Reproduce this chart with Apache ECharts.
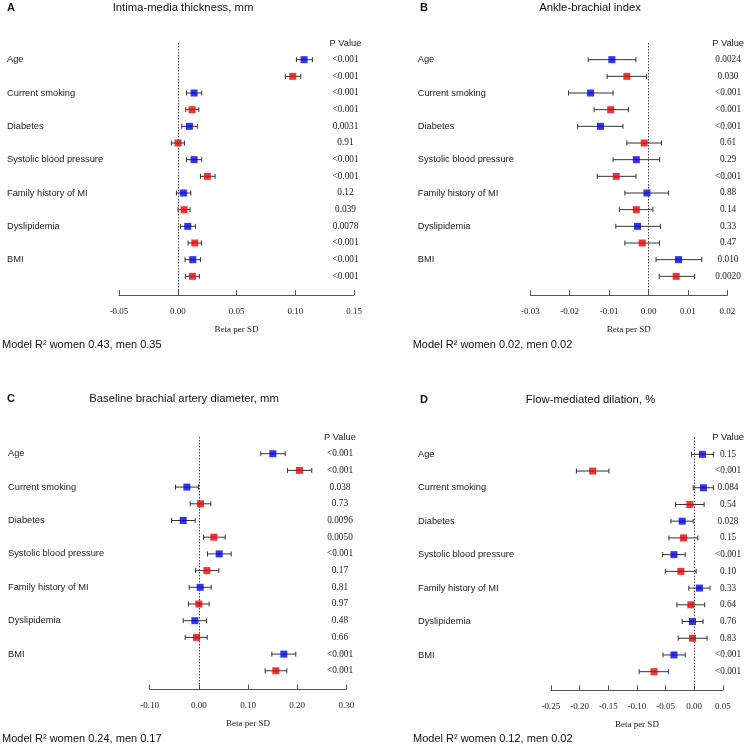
<!DOCTYPE html>
<html>
<head>
<meta charset="utf-8">
<script src="https://cdn.jsdelivr.net/npm/echarts@6/dist/echarts.min.js"></script>
<style>html,body{margin:0;padding:0;background:#fff}#c{width:747px;height:748px}</style>
</head>
<body>
<div id="c"></div>
<script>
// ---- data ----
var categories = ['Age', 'Current smoking', 'Diabetes', 'Systolic blood pressure', 'Family history of MI', 'Dyslipidemia', 'BMI'];

// Panel A: Intima-media thickness, mm
var aBlue   = [0.1075, 0.0139, 0.0099, 0.0139, 0.0048, 0.0085, 0.0128];
var aBlueLo = [0.1010, 0.0074, 0.0034, 0.0074, -0.0011, 0.0023, 0.0062];
var aBlueHi = [0.1146, 0.0204, 0.0167, 0.0204, 0.0111, 0.0150, 0.0193];
var aRed    = [0.0979, 0.0122, 0.0003, 0.0252, 0.0054, 0.0145, 0.0125];
var aRedLo  = [0.0916, 0.0068, -0.0054, 0.0193, 0.0003, 0.0088, 0.0065];
var aRedHi  = [0.1047, 0.0179, 0.0057, 0.0318, 0.0105, 0.0201, 0.0184];
var aPBlue  = ['<0.001', '<0.001', '0.0031', '<0.001', '0.12', '0.0078', '<0.001'];
var aPRed   = ['<0.001', '<0.001', '0.91', '<0.001', '0.039', '<0.001', '<0.001'];

// Panel B: Ankle-brachial index
var bBlue   = [-0.0093, -0.0147, -0.0122, -0.0031, -0.0004, -0.0028, 0.0076];
var bBlueLo = [-0.0153, -0.0203, -0.0180, -0.0090, -0.0060, -0.0083, 0.0019];
var bBlueHi = [-0.0032, -0.0090, -0.0065, 0.0028, 0.0051, 0.0030, 0.0135];
var bRed    = [-0.0055, -0.0096, -0.0011, -0.0082, -0.0031, -0.0016, 0.0070];
var bRedLo  = [-0.0105, -0.0138, -0.0055, -0.0130, -0.0074, -0.0060, 0.0027];
var bRedHi  = [-0.0005, -0.0051, 0.0033, -0.0032, 0.0011, 0.0028, 0.0117];
var bPBlue  = ['0.0024', '<0.001', '<0.001', '0.29', '0.88', '0.33', '0.010'];
var bPRed   = ['0.030', '<0.001', '0.61', '<0.001', '0.14', '0.47', '0.0020'];

// Panel C: Baseline brachial artery diameter, mm
var cBlue   = [0.1505, -0.0244, -0.0319, 0.0414, 0.0027, -0.0081, 0.1729];
var cBlueLo = [0.1260, -0.0475, -0.0556, 0.0176, -0.0197, -0.0319, 0.1485];
var cBlueHi = [0.1756, -0.0007, -0.0075, 0.0658, 0.0251, 0.0156, 0.1973];
var cRed    = [0.2047, 0.0034, 0.0305, 0.0163, 0.0000, -0.0047, 0.1566];
var cRedLo  = [0.1803, -0.0176, 0.0095, -0.0068, -0.0210, -0.0278, 0.1349];
var cRedHi  = [0.2298, 0.0244, 0.0536, 0.0407, 0.0210, 0.0169, 0.1790];
var cPBlue  = ['<0.001', '0.038', '0.0096', '<0.001', '0.81', '0.48', '<0.001'];
var cPRed   = ['<0.001', '0.73', '0.0050', '0.17', '0.97', '0.66', '<0.001'];

// Panel D: Flow-mediated dilation, %
var dBlue   = [0.0145, 0.0162, -0.0208, -0.0353, 0.0093, -0.0029, -0.0353];
var dBlueLo = [-0.0046, -0.0017, -0.0405, -0.0550, -0.0093, -0.0208, -0.0544];
var dBlueHi = [0.0336, 0.0336, -0.0017, -0.0156, 0.0278, 0.0156, -0.0156];
var dRed    = [-0.1772, -0.0075, -0.0185, -0.0232, -0.0058, -0.0029, -0.0701];
var dRedLo  = [-0.2056, -0.0324, -0.0440, -0.0504, -0.0301, -0.0278, -0.0961];
var dRedHi  = [-0.1488, 0.0174, 0.0064, 0.0035, 0.0185, 0.0226, -0.0446];
var dPBlue  = ['0.15', '0.084', '0.028', '<0.001', '0.33', '0.76', '<0.001'];
var dPRed   = ['<0.001', '0.54', '0.15', '0.10', '0.64', '0.83', '<0.001'];

var panelLetters = ['A', 'B', 'C', 'D'];
var panelTitles = ['Intima-media thickness, mm', 'Ankle-brachial index', 'Baseline brachial artery diameter, mm', 'Flow-mediated dilation, %'];
var modelTexts = ['Model R\u00b2 women 0.43, men 0.35', 'Model R\u00b2 women 0.02, men 0.02', 'Model R\u00b2 women 0.24, men 0.17', 'Model R\u00b2 women 0.12, men 0.02'];
var xRanges = [[-0.05, 0.15, 0.05], [-0.03, 0.02, 0.01], [-0.10, 0.30, 0.10], [-0.25, 0.05, 0.05]];
var xName = 'Beta per SD';
var pHeader = 'P Value';

// ---- layout / style ----
var SANS = 'Liberation Sans';
var SERIF = 'Liberation Serif';
var BLUE = '#0000f0';
var RED = '#f00000';
var layouts = [
  {left: 119, width: 235, top: 43, height: 252, lm: 112, pm: -8.5},
  {left: 530.3, width: 197.7, top: 43, height: 252, lm: 112.6, pm: 0.7},
  {left: 149.7, width: 196.6, top: 437, height: 252.5, lm: 141.7, pm: -6.3},
  {left: 551, width: 172.7, top: 437.6, height: 252.8, lm: 133, pm: 5.3}
];
var textPos = [
  {lx: 7, ly: 8, tx: 183, ty: 8, mx: 2, my: 345},
  {lx: 420, ly: 8, tx: 590, ty: 8, mx: 412.7, my: 345},
  {lx: 7, ly: 399, tx: 184, ty: 399, mx: 2, my: 739},
  {lx: 420, ly: 400, tx: 590.5, ty: 400, mx: 413, my: 739}
];

var panels = [
  [aBlue, aBlueLo, aBlueHi, aRed, aRedLo, aRedHi, aPBlue, aPRed],
  [bBlue, bBlueLo, bBlueHi, bRed, bRedLo, bRedHi, bPBlue, bPRed],
  [cBlue, cBlueLo, cBlueHi, cRed, cRedLo, cRedHi, cPBlue, cPRed],
  [dBlue, dBlueLo, dBlueHi, dRed, dRedLo, dRedHi, dPBlue, dPRed]
];

var grids = [], xAxes = [], yAxes = [], series = [], graphics = [];

function rowIndex(v) {
  var r = Math.round(v);
  return Math.abs(v - r) < 1e-6 ? r : null;
}

function errRender(color) {
  return function (params, api) {
    var p1 = api.coord([api.value(0), api.value(2)]);
    var p2 = api.coord([api.value(1), api.value(2)]);
    var h = 2.5;
    var st = {stroke: color, lineWidth: 1};
    return {
      type: 'group',
      children: [
        {type: 'line', shape: {x1: p1[0], y1: p1[1], x2: p2[0], y2: p2[1]}, style: st},
        {type: 'line', shape: {x1: p1[0], y1: p1[1] - h, x2: p1[0], y2: p1[1] + h}, style: st},
        {type: 'line', shape: {x1: p2[0], y1: p2[1] - h, x2: p2[0], y2: p2[1] + h}, style: st}
      ]
    };
  };
}

panels.forEach(function (pd, k) {
  var L = layouts[k];
  var xr = xRanges[k];
  var pLabels = [];
  for (var i = 0; i < categories.length; i++) { pLabels.push(pd[6][i]); pLabels.push(pd[7][i]); }

  grids.push({left: L.left, top: L.top, width: L.width, height: L.height});
  xAxes.push({
    type: 'value', gridIndex: k, min: xr[0], max: xr[1], interval: xr[2], position: 'bottom',
    axisLine: {show: true, onZero: false, lineStyle: {color: '#555', width: 1}},
    axisTick: {show: true, inside: true, length: 5, lineStyle: {color: '#555'}},
    splitLine: {show: false},
    axisLabel: {
      margin: 12, color: '#222', fontFamily: SERIF, fontSize: 9,
      formatter: function (v) { var s = v.toFixed(2); return s === '-0.00' ? '0.00' : s; }
    },
    name: xName, nameLocation: 'middle', nameGap: 30,
    nameTextStyle: {fontFamily: SERIF, fontSize: 9, color: '#222'}
  });
  var yBase = {
    type: 'value', gridIndex: k, min: -1, max: 14.12, interval: 1, inverse: true,
    axisLine: {show: false, onZero: false}, axisTick: {show: false}, splitLine: {show: false}
  };
  yAxes.push(Object.assign({}, yBase, {
    position: 'left',
    axisLabel: {
      align: 'left', margin: L.lm, color: '#222', fontFamily: SANS, fontSize: 9.3,
      showMinLabel: true, showMaxLabel: true,
      formatter: function (v) {
        var r = rowIndex(v);
        if (r === null || r < 0 || r % 2 !== 0) return '';
        return categories[r / 2] || '';
      }
    }
  }));
  yAxes.push(Object.assign({}, yBase, {
    position: 'right',
    axisLabel: {
      align: 'center', margin: L.pm, color: '#222', fontFamily: SERIF, fontSize: 9.3,
      showMinLabel: true, showMaxLabel: true,
      rich: {h: {fontFamily: SANS, fontSize: 9.3, color: '#222'}},
      formatter: function (v) {
        var r = rowIndex(v);
        if (r === null) return '';
        if (r === -1) return '{h|' + pHeader + '}';
        return pLabels[r] || '';
      }
    }
  }));

  var yi = k * 2;
  var blueErr = [], redErr = [], bluePts = [], redPts = [];
  for (var j = 0; j < categories.length; j++) {
    blueErr.push([pd[1][j], pd[2][j], 2 * j]);
    redErr.push([pd[4][j], pd[5][j], 2 * j + 1]);
    bluePts.push([pd[0][j], 2 * j]);
    redPts.push([pd[3][j], 2 * j + 1]);
  }
  series.push({
    type: 'custom', xAxisIndex: k, yAxisIndex: yi, renderItem: errRender('#333'),
    encode: {x: [0, 1], y: 2}, data: blueErr.concat(redErr), silent: true, z: 2
  });
  series.push({
    name: 'Women', type: 'scatter', xAxisIndex: k, yAxisIndex: yi, data: bluePts,
    symbol: 'rect', symbolSize: 7, itemStyle: {color: BLUE}, silent: true, z: 3,
    markLine: {
      silent: true, symbol: 'none', label: {show: false},
      lineStyle: {type: [1.5, 1.5], color: '#444', width: 1},
      data: [{xAxis: 0}]
    }
  });
  series.push({
    name: 'Men', type: 'scatter', xAxisIndex: k, yAxisIndex: yi, data: redPts,
    symbol: 'rect', symbolSize: 7, itemStyle: {color: RED}, silent: true, z: 3
  });

  var T = textPos[k];
  graphics.push({type: 'text', style: {text: panelLetters[k], x: T.lx, y: T.ly, align: 'left', verticalAlign: 'middle', font: 'bold 11px ' + SANS, fill: '#111'}});
  graphics.push({type: 'text', style: {text: panelTitles[k], x: T.tx, y: T.ty, align: 'center', verticalAlign: 'middle', font: '11.3px ' + SANS, fill: '#111'}});
  graphics.push({type: 'text', style: {text: modelTexts[k], x: T.mx, y: T.my, align: 'left', verticalAlign: 'middle', font: '11px ' + SANS, fill: '#111'}});
});

var chart = echarts.init(document.getElementById('c'), null, {renderer: 'canvas'});
chart.setOption({
  animation: false,
  backgroundColor: '#fff',
  grid: grids, xAxis: xAxes, yAxis: yAxes, series: series, graphic: graphics
});
</script>
</body>
</html>
